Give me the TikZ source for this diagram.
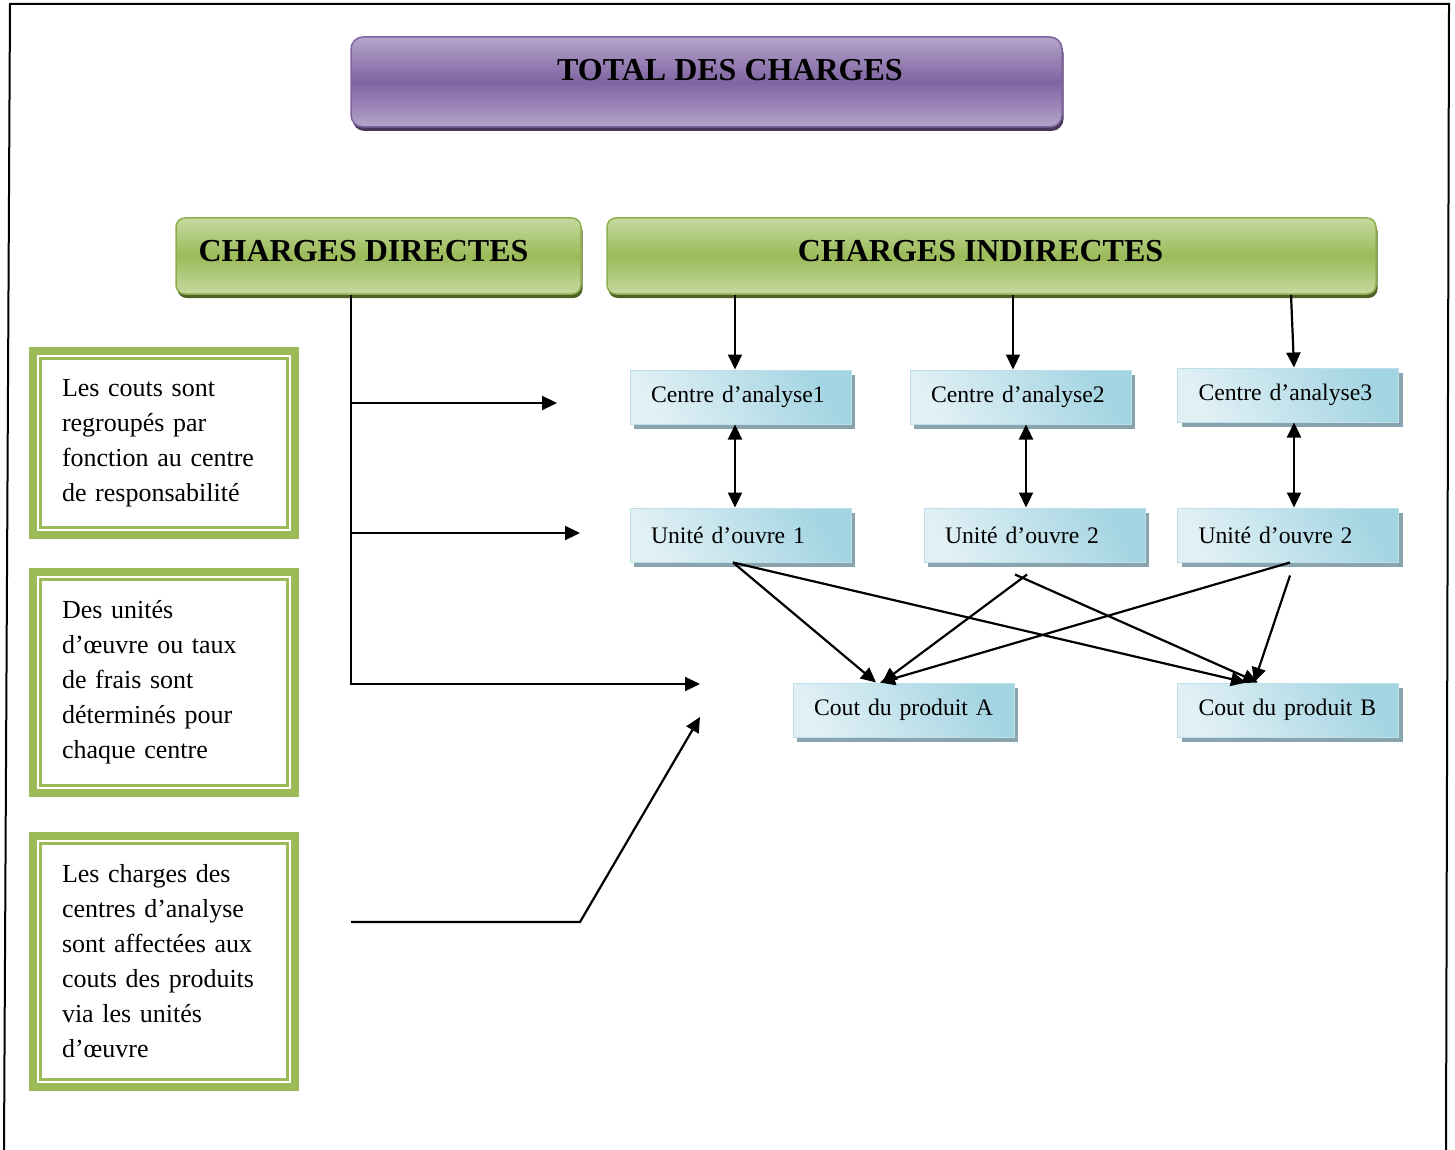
\documentclass[tikz,border=0pt]{standalone}
\usepackage{fontspec}
\setmainfont{Liberation Serif}
\usetikzlibrary{arrows.meta,shadows,calc}

\definecolor{purpleL}{HTML}{B4A4CA}
\definecolor{purpleD}{HTML}{8064A2}
\definecolor{purpleE}{HTML}{7E63A0}
\definecolor{purpleS}{HTML}{45385A}
\definecolor{greenL}{HTML}{C5D9A0}
\definecolor{greenD}{HTML}{9BBB59}
\definecolor{greenE}{HTML}{8DAE4C}
\definecolor{greenS}{HTML}{4F6228}
\definecolor{frameG}{HTML}{9BBB59}
\definecolor{blueL}{HTML}{E0F0F5}
\definecolor{blueD}{HTML}{A3D4E2}
\definecolor{blueE}{HTML}{BCDFE9}
\definecolor{blueS}{HTML}{8AA4AF}

\begin{document}
\begin{tikzpicture}[x=1pt,y=-1pt,
  purplebox/.style={rectangle, rounded corners=12pt, top color=purpleL,
    bottom color=purpleL, middle color=purpleD, draw=purpleE, line width=1.5pt,
    drop shadow={shadow xshift=1.5pt,shadow yshift=-4pt,fill=purpleS,opacity=1}},
  greenbox/.style={rectangle, rounded corners=9pt, top color=greenL,
    bottom color=greenL, middle color=greenD, draw=greenE, line width=1.5pt,
    drop shadow={shadow xshift=1.5pt,shadow yshift=-4pt,fill=greenS,opacity=1}},
  headtext/.style={inner sep=0pt, font=\fontsize{32}{38}\selectfont\bfseries},
  bluebox/.style={rectangle, shading=axis, top color=blueD, bottom color=blueL,
    shading angle=-60, draw=blueE, line width=1pt,
    minimum height=54pt, text width=209pt, inner xsep=6pt, inner ysep=0pt,
    align=left, font=\fontsize{23.7}{28}\selectfont,
    execute at begin node={\hspace*{15pt}},
    drop shadow={shadow xshift=4pt,shadow yshift=-5pt,fill=blueS,opacity=1}},
  notebox/.style={rectangle, draw=frameG, line width=8pt, outer sep=0pt,
    text width=204pt, inner xsep=29pt, inner ysep=0pt, align=left,
    font=\fontsize{26}{35}\selectfont},
  noteinner/.style={draw=frameG, line width=2.5pt},
  arr/.style={line width=2.2pt, -{Triangle[length=15pt,width=14pt]}},
  dblarr/.style={line width=2.2pt, {Triangle[length=15pt,width=14pt]}-{Triangle[length=15pt,width=14pt]}},
  pageframe/.style={line width=2pt, draw=black}
]
\useasboundingbox (0,0) rectangle (1455,1150);

% page frame
\draw[pageframe] (4,1150) -- (10,4) -- (1449,4) -- (1446,1150);

% headings
\node[purplebox, minimum width=711pt, minimum height=90pt] (total) at (706.5,82) {};
\node[headtext] (totalt) at (730,70) {TOTAL DES CHARGES};

\node[greenbox, minimum width=405pt, minimum height=76pt] (dir) at (378.5,256) {};
\node[headtext] (dirt) at (363.5,251) {CHARGES DIRECTES};

\node[greenbox, minimum width=769pt, minimum height=76pt] (indir) at (991.5,256) {};
\node[headtext] (indirt) at (980.5,251) {CHARGES INDIRECTES};

% analysis centres, work units, products
\node[bluebox] (c1) at (740.5,397) {Centre d’analyse1};
\node[bluebox] (c2) at (1020.5,397) {Centre d’analyse2};
\node[bluebox] (c3) at (1288,395) {Centre d’analyse3};
\node[bluebox] (u1) at (740.5,535) {Unité d’ouvre 1};
\node[bluebox] (u2) at (1034.5,535) {Unité d’ouvre 2};
\node[bluebox] (u3) at (1288,535) {Unité d’ouvre 2};
\node[bluebox] (pA) at (903.5,710) {Cout du produit A};
\node[bluebox] (pB) at (1288,710) {Cout du produit B};

% explanatory notes
\node[notebox, minimum height=184pt] (n1) at (164,443)
  {Les couts sont\\regroupés par\\fonction au centre\\de responsabilité};
\node[notebox, minimum height=221pt] (n2) at (164,682.5)
  {Des unités\\d’œuvre ou taux\\de frais sont\\déterminés pour\\chaque centre};
\node[notebox, minimum height=251pt] (n3) at (164,961.5)
  {Les charges des\\centres d’analyse\\sont affectées aux\\couts des produits\\via les unités\\d’œuvre};
\foreach \n in {n1,n2,n3}
  \draw[noteinner] ([xshift=7.5pt,yshift=-7.5pt]\n.north west) rectangle ([xshift=-7.5pt,yshift=7.5pt]\n.south east);

% indirect charges to centres
\coordinate (t1) at ([xshift=-5.5pt]c1.north);
\coordinate (t2) at ([xshift=-7.5pt]c2.north);
\coordinate (t3) at ([xshift=6pt]c3.north);
\coordinate (s3) at ([xshift=3pt]c3.north);
\draw[arr] (t1 |- indir.south) -- (t1);
\draw[arr] (t2 |- indir.south) -- (t2);
\draw[arr] (s3 |- indir.south) -- (t3);

% centres <-> work units
\draw[dblarr] ([xshift=-5.5pt]c1.south) -- ([xshift=-5.5pt]u1.north);
\draw[dblarr] ([xshift=5.5pt]c2.south) -- ([xshift=-8.5pt]u2.north);
\draw[dblarr] ([xshift=6pt]c3.south) -- ([xshift=6pt]u3.north);

% work units to product costs
\coordinate (u1a) at ([xshift=-7.5pt]u1.south);
\coordinate (u2a) at ([xshift=-7.5pt,yshift=-12pt]u2.south);
\coordinate (u2b) at ([xshift=-19.5pt,yshift=-12pt]u2.south);
\coordinate (u3a) at ([xshift=2pt]u3.south);
\coordinate (u3b) at ([xshift=2pt,yshift=-13pt]u3.south);
\draw[arr] (u1a) -- ([xshift=-27.5pt]pA.north);
\draw[arr] (u1a) -- ([xshift=-42pt]pB.north);
\draw[arr] (u2a) -- ([xshift=-21.5pt]pA.north);
\draw[arr] (u2b) -- ([xshift=-30pt]pB.north);
\draw[arr] (u3a) -- ([xshift=-23.5pt]pA.north);
\draw[arr] (u3b) -- ([xshift=-34pt]pB.north);

% direct charges branches
\coordinate (stem) at ([xshift=-27.5pt]dir.south);
\coordinate (e1) at (557,403);
\coordinate (e2) at (580,533);
\coordinate (e3) at (700,684);
\draw[arr] (stem) |- (e3);
\draw[arr] (stem |- e1) -- (e1);
\draw[arr] (stem |- e2) -- (e2);

% allocation arrow
\coordinate (s4) at (351,922);
\coordinate (k4) at (580,922);
\coordinate (e4) at (700,717);
\draw[arr, line join=miter] (s4) -- (k4) -- (e4);
\end{tikzpicture}
\end{document}
